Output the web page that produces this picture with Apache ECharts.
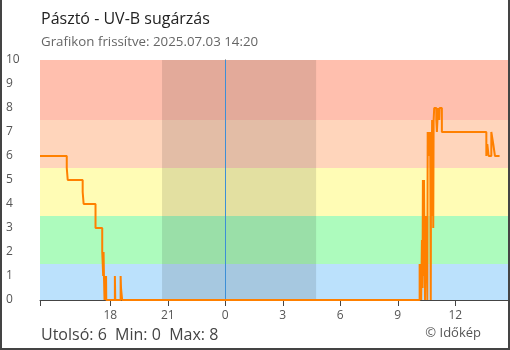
<!DOCTYPE html>
<html>
<head>
<meta charset="utf-8">
<script src="https://cdn.jsdelivr.net/npm/echarts@6/dist/echarts.min.js"></script>
<style>
html,body{margin:0;padding:0;background:#fff;}
#c{width:510px;height:350px;}
</style>
</head>
<body>
<div id="c"></div>
<script>
// ---- data ----
var titleText = 'Pásztó - UV-B sugárzás';
var subtitleText = 'Grafikon frissítve: 2025.07.03 14:20';
var statsText = 'Utolsó: 6  Min: 0  Max: 8';
var creditText = '© Időkép';

// hours relative to midnight (negative = previous day)
var axisStart = -9.6667;   // 14:20 previous day
var axisEnd = 14.75;       // 14:45
var tickHours = [-6, -3, 0, 3, 6, 9, 12];
var nightStart = -3.30;    // ~20:42
var nightEnd = 4.74;       // ~04:44
var midnight = 0;

var bandEdges = [0, 1.5, 3.5, 5.5, 7.5, 10];
var bandColors = ['#bbe1fc', '#adfbbd', '#fffcb5', '#ffd5bb', '#ffbfae'];

var uvTimes = [
  -9.6667, -8.27, -8.22, -7.44, -7.39, -6.77, -6.42, -6.37, -6.35, -6.33,
  -6.30, -6.28, -6.26, -6.25, -6.24, -6.22, -6.21, -6.19, -5.76, -5.74,
  -5.46, -5.44, -5.38,
  10.14, 10.17, 10.19, 10.22, 10.26, 10.29, 10.31, 10.34, 10.37, 10.40,
  10.42, 10.44, 10.47, 10.50, 10.52, 10.54, 10.56, 10.62, 10.64, 10.66,
  10.69, 10.72, 10.74, 10.77, 10.79, 10.81, 10.83, 10.85, 10.87, 10.90,
  11.01, 11.04, 11.07, 11.11, 11.16, 11.18, 11.30, 13.62, 13.67, 13.74,
  13.88, 13.98, 14.07, 14.31
];
var uvValues = [
  6, 5.5, 5, 4.5, 4, 3, 2, 1, 2, 1,
  0, 1, 0, 1, 0, 1, 0, 0, 1, 0,
  1, 0.5, 0,
  1.5, 0, 1, 0, 2.5, 0.5, 5, 1, 5, 1.5,
  0, 2, 3.5, 1, 2, 0, 7, 6, 7, 6.5,
  7, 0, 7, 5, 7.5, 3.5, 7, 3, 7.5, 8,
  7.5, 7, 7.5, 8, 7.5, 8, 7, 6, 6.5, 6,
  7, 6.5, 6, 6
];

// ---- chart ----
var FONT = '"Open Sans", "DejaVu Sans", sans-serif';
var chart = echarts.init(document.getElementById('c'), null, {renderer: 'canvas'});

var bandAreas = [];
for (var i = 0; i < bandColors.length; i++) {
  bandAreas.push([
    {yAxis: bandEdges[i], itemStyle: {color: bandColors[i]}},
    {yAxis: bandEdges[i + 1]}
  ]);
}
var lineData = uvTimes.map(function (t, i) { return [t, uvValues[i]]; });

function hourLabel(v) {
  var h = Math.round(v);
  return String(((h % 24) + 24) % 24);
}

var xBase = {
  type: 'value', min: axisStart, max: axisEnd,
  splitLine: {show: false}
};

var option = {
  animation: false,
  backgroundColor: '#ffffff',
  textStyle: {fontFamily: FONT},
  grid: {left: 40, top: 60, right: 2, bottom: 50, containLabel: false},
  title: [
    {text: titleText, left: 36, top: 6,
     textStyle: {fontFamily: FONT, fontSize: 16, fontWeight: 'normal', color: '#222'}},
    {text: subtitleText, left: 36, top: 31,
     textStyle: {fontFamily: FONT, fontSize: 13.3, fontWeight: 'normal', color: '#666'}},
    {text: statsText, left: 36, top: 322,
     textStyle: {fontFamily: FONT, fontSize: 16, fontWeight: 'normal', color: '#444'}},
    {text: creditText, right: 24, top: 322,
     textStyle: {fontFamily: FONT, fontSize: 13, fontWeight: 'normal', color: '#555'}}
  ],
  xAxis: [
    Object.assign({}, xBase, {
      position: 'bottom',
      axisLine: {show: true, lineStyle: {color: '#444', width: 1}},
      axisTick: {show: true, length: 6, inside: false,
        customValues: [axisStart].concat(tickHours),
        lineStyle: {color: '#444'}},
      axisLabel: {show: true, customValues: tickHours, formatter: hourLabel,
        margin: 10, fontSize: 12, color: '#555', fontFamily: FONT}
    }),
    Object.assign({}, xBase, {
      position: 'bottom',
      axisLine: {show: false},
      axisTick: {show: true, length: 6, inside: true,
        customValues: [axisStart].concat(tickHours),
        lineStyle: {color: '#444'}},
      axisLabel: {show: false}
    })
  ],
  yAxis: [
    {type: 'value', min: 0, max: 10, interval: 1, position: 'left',
     splitLine: {show: false},
     axisLine: {show: true, lineStyle: {color: '#444', width: 1}},
     axisTick: {show: true, length: 7, inside: false, lineStyle: {color: '#444'}},
     axisLabel: {show: true, align: 'left', margin: 34, fontSize: 12, color: '#555', fontFamily: FONT}},
    {type: 'value', min: 0, max: 10, interval: 1, position: 'left',
     splitLine: {show: false},
     axisLine: {show: false},
     axisTick: {show: true, length: 7, inside: true, lineStyle: {color: '#444'}},
     axisLabel: {show: false}}
  ],
  series: [
    {type: 'line', name: 'bands', data: [], xAxisIndex: 0, yAxisIndex: 0, z: 1,
     silent: true, symbol: 'none',
     markArea: {silent: true, data: bandAreas}},
    {type: 'line', name: 'night', data: [], xAxisIndex: 0, yAxisIndex: 0, z: 2,
     silent: true, symbol: 'none',
     markArea: {silent: true, itemStyle: {color: 'rgba(0,0,0,0.11)'},
       data: [[{xAxis: nightStart}, {xAxis: nightEnd}]]},
     markLine: {silent: true, symbol: 'none', label: {show: false},
       lineStyle: {color: '#3d8fd6', width: 1, type: 'solid'},
       data: [{xAxis: midnight}]}},
    {type: 'line', name: 'UV-B', data: lineData, xAxisIndex: 0, yAxisIndex: 0, z: 5,
     step: 'end', symbol: 'none', showSymbol: false,
     lineStyle: {color: '#ff8000', width: 2}, itemStyle: {color: '#ff8000'}}
  ],
  graphic: [
    {type: 'polyline', silent: true, z: 100,
     shape: {points: [[1, 0], [1, 349], [509, 349], [509, 0]]},
     style: {stroke: '#444', lineWidth: 2, fill: null}}
  ]
};
chart.setOption(option);
</script>
</body>
</html>
